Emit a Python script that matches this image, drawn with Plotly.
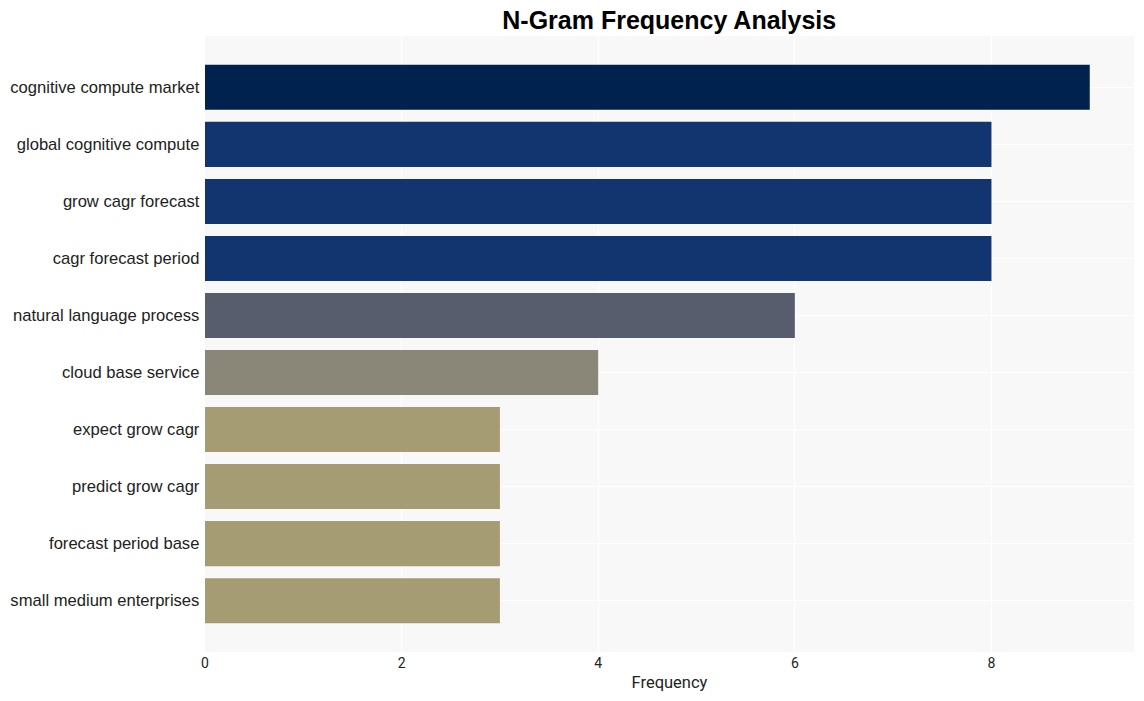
import plotly.graph_objects as go

ngrams = [
    "cognitive compute market",
    "global cognitive compute",
    "grow cagr forecast",
    "cagr forecast period",
    "natural language process",
    "cloud base service",
    "expect grow cagr",
    "predict grow cagr",
    "forecast period base",
    "small medium enterprises",
]
frequencies = [9, 8, 8, 8, 6, 4, 3, 3, 3, 3]
bar_colors = ["#00224e", "#123570", "#123570", "#123570", "#575d6d",
              "#8a8779", "#a59c74", "#a59c74", "#a59c74", "#a59c74"]

fig = go.Figure(
    go.Bar(
        x=frequencies,
        y=ngrams,
        orientation="h",
        marker=dict(color=bar_colors, line=dict(width=0)),
    )
)

fig.update_layout(
    width=1144,
    height=701,
    margin=dict(l=205, r=10, t=36, b=49),
    paper_bgcolor="white",
    plot_bgcolor="#f8f8f8",
    bargap=0.21,
    showlegend=False,
    title=dict(
        text="<b>N-Gram Frequency Analysis</b>",
        x=0.585, xanchor="center", y=0.971, yanchor="middle",
        font=dict(family="Arial, Liberation Sans", size=25, color="black"),
    ),
    font=dict(family="Arial, Liberation Sans", color="#222"),
)
fig.update_xaxes(
    range=[0, 9.45],
    dtick=2,
    gridcolor="white",
    gridwidth=1,
    zeroline=False,
    ticklabelstandoff=1,
    tickfont=dict(family="Roboto, Arial", size=14, color="#222"),
    title=dict(text="Frequency", font=dict(family="Roboto, Arial", size=16.5, color="#222"), standoff=6),
)
fig.update_yaxes(
    range=[9.9, -0.9],
    gridcolor="white",
    gridwidth=1,
    tickfont=dict(family="Arial, Liberation Sans", size=16.6, color="#222"),
    ticksuffix=" ",
)

fig.write_html("out.html")
